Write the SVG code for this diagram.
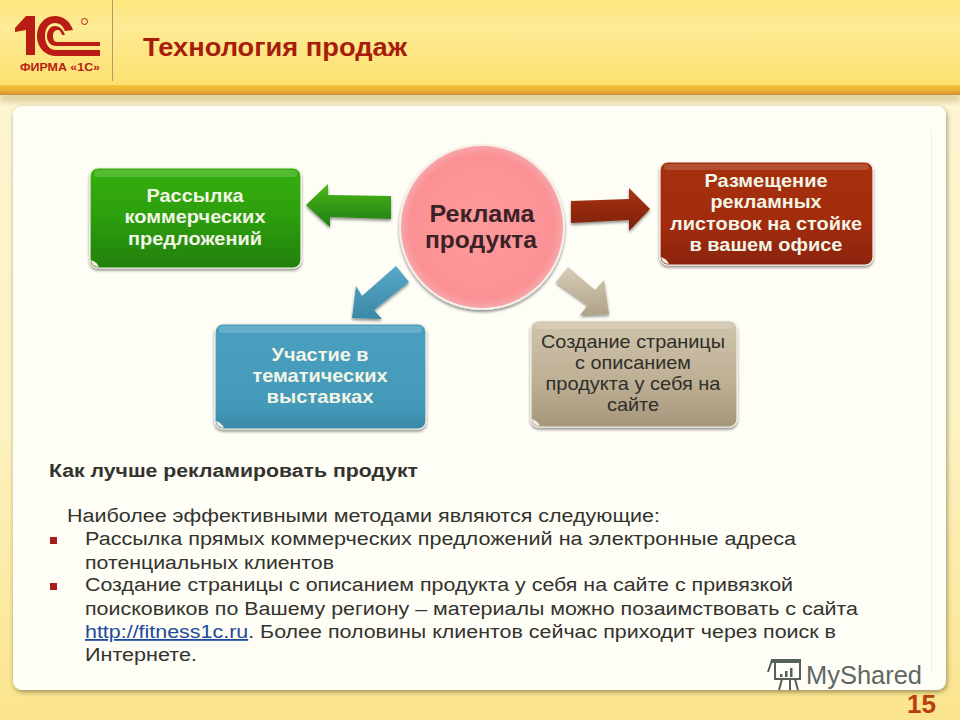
<svg xmlns="http://www.w3.org/2000/svg" width="960" height="720" viewBox="0 0 960 720">
<defs>
<linearGradient id="hdr" x1="0" y1="0" x2="0" y2="1"><stop offset="0" stop-color="#fde67c"/><stop offset="0.3" stop-color="#fdeb95"/><stop offset="1" stop-color="#fde070"/></linearGradient>
<linearGradient id="band" x1="0" y1="0" x2="0" y2="1"><stop offset="0" stop-color="#f5c53e"/><stop offset="0.7" stop-color="#e8a830"/><stop offset="1" stop-color="#c89038"/></linearGradient>
<linearGradient id="bg" x1="0" y1="0" x2="0" y2="1"><stop offset="0" stop-color="#fdf6d6"/><stop offset="0.6" stop-color="#fdf2c0"/><stop offset="1" stop-color="#fbe48c"/></linearGradient>
<linearGradient id="g" x1="0" y1="0" x2="0" y2="1"><stop offset="0" stop-color="#35b008"/><stop offset="0.5" stop-color="#2c9e0a"/><stop offset="1" stop-color="#237f0e"/></linearGradient>
<linearGradient id="r" x1="0" y1="0" x2="0" y2="1"><stop offset="0" stop-color="#a53010"/><stop offset="0.6" stop-color="#a22c0c"/><stop offset="1" stop-color="#8a2408"/></linearGradient>
<linearGradient id="b" x1="0" y1="0" x2="0" y2="1"><stop offset="0" stop-color="#4a9fc0"/><stop offset="0.8" stop-color="#4499b8"/><stop offset="1" stop-color="#3a87a6"/></linearGradient>
<linearGradient id="t" x1="0" y1="0" x2="0" y2="1"><stop offset="0" stop-color="#cfc4ac"/><stop offset="0.6" stop-color="#bdae93"/><stop offset="1" stop-color="#a5957a"/></linearGradient>
<radialGradient id="c" cx="0.5" cy="0.5" r="0.5"><stop offset="0" stop-color="#fe9a9c"/><stop offset="0.88" stop-color="#fb9194"/><stop offset="1" stop-color="#f6a8ac"/></radialGradient>
<linearGradient id="ag" x1="0" y1="0" x2="0" y2="1"><stop offset="0" stop-color="#4cb81c"/><stop offset="1" stop-color="#1f7d10"/></linearGradient>
<linearGradient id="ar" x1="0" y1="0" x2="0" y2="1"><stop offset="0" stop-color="#a83414"/><stop offset="1" stop-color="#7c200c"/></linearGradient>
<linearGradient id="ab" x1="0" y1="0" x2="0" y2="1"><stop offset="0" stop-color="#58a8c8"/><stop offset="1" stop-color="#3a88a8"/></linearGradient>
<linearGradient id="at" x1="0" y1="0" x2="0" y2="1"><stop offset="0" stop-color="#d8cdb8"/><stop offset="1" stop-color="#b0a288"/></linearGradient>
<filter id="s" x="-10%" y="-10%" width="120%" height="125%"><feGaussianBlur in="SourceAlpha" stdDeviation="1.8"/><feOffset dy="2"/><feComponentTransfer><feFuncA type="linear" slope="0.45"/></feComponentTransfer><feMerge><feMergeNode/><feMergeNode in="SourceGraphic"/></feMerge></filter>
<filter id="ps" x="-3%" y="-3%" width="106%" height="106%"><feGaussianBlur in="SourceAlpha" stdDeviation="2.5"/><feOffset dx="1" dy="2"/><feComponentTransfer><feFuncA type="linear" slope="0.4"/></feComponentTransfer><feMerge><feMergeNode/><feMergeNode in="SourceGraphic"/></feMerge></filter>
<filter id="hs" x="-2%" y="-20%" width="104%" height="160%"><feGaussianBlur stdDeviation="3"/></filter>
</defs>
<style>
text{font-family:"Liberation Sans",Arial,sans-serif}
.n{font-weight:700;font-size:18.500px;fill:#f2f5e6;text-anchor:middle}
.d{font-size:18.500px;fill:#2e2e2a;text-anchor:middle}
.c{font-weight:700;font-size:23.500px;fill:#3a2226;text-anchor:middle}
.p{font-size:18px;fill:#33332e}
.box{stroke:#f4f2e6;stroke-width:1.2}
.hl{fill:#fff;opacity:.16}
.ch{fill:#f2efe0}
</style>

<rect width="960" height="720" fill="url(#bg)"/>
<rect x="0" y="92" width="960" height="10" fill="#a88a40" opacity=".35" filter="url(#hs)"/>
<rect width="960" height="85" fill="url(#hdr)"/>
<rect y="85" width="960" height="10" fill="url(#band)"/>

<g id="logo">
<path d="M15 28 L26 16 H35 V55 H26 V30 L15 32 Z" fill="#b81c14"/>
<path d="M73 30 C70 21 63 16 55 16 C44 16 37 25 37 36 C37 47 45 56 56 56 H100 V50 H56 C49 50 45 44 45 36 C45 28 49 23 55 23 C60 23 63 26 65 31 Z" fill="#b81c14"/>
<path d="M65 35 C63 29 59 26 55 26 C50 26 47 31 47 36 C47 42 51 46 56 46 H100 V42 H57 C54 42 53 39 53 36 C53 32 55 30 58 30 C60 30 61 32 62 35 Z" fill="#b81c14"/>
<circle cx="84.500" cy="21.500" r="3" fill="none" stroke="#b81c14" stroke-width="1"/>
<text x="20" y="71" font-size="11.500" font-weight="700" fill="#b81c14" textLength="80" lengthAdjust="spacingAndGlyphs">ФИРМА «1С»</text>
</g>
<line x1="112.500" y1="0" x2="112.500" y2="81" stroke="#a8a060" stroke-width="1"/>
<text id="title" x="143" y="56" font-size="25" font-weight="700" fill="#a81c0c" textLength="264" lengthAdjust="spacingAndGlyphs">Технология продаж</text>

<g id="panel">
<rect x="13" y="106" width="933" height="584" rx="9" fill="#fefdf6" filter="url(#ps)"/>
<line x1="931.500" y1="130" x2="931.500" y2="672" stroke="#f0eee2" stroke-width="1"/>
</g>

<g id="connectors">
<g filter="url(#s)">
<path d="M391 196 V219 L330 217 V227 L306 205 L328 184 V195 Z" fill="url(#ag)"/>
<path d="M571 201 L629 199 V188 L650 209 L629 231 V220 L571 223 Z" fill="url(#ar)"/>
<path d="M396 266 L409 282 L374 310 L382 319 L352 318 L356 286 L362 296 Z" fill="url(#ab)"/>
<path d="M568 267 L556 282 L588 305 L580 315 L609 314 L604 280 L595 290 Z" fill="url(#at)"/>
</g>
</g>

<g id="node-green">
<rect class="box" x="90" y="168" width="211" height="100" rx="8" fill="url(#g)" filter="url(#s)"/>
<rect class="hl" x="94" y="170" width="203" height="7" rx="3.500"/>
<path class="ch" d="M91 260 Q97 262 99 267 Q92 267 91 260Z"/>
<text class="n" x="195" y="202" textLength="97" lengthAdjust="spacingAndGlyphs">Рассылка</text>
<text class="n" x="195" y="223" textLength="141" lengthAdjust="spacingAndGlyphs">коммерческих</text>
<text class="n" x="195" y="245" textLength="134" lengthAdjust="spacingAndGlyphs">предложений</text>
</g>

<g id="node-red">
<rect class="box" x="660" y="162" width="213" height="103" rx="8" fill="url(#r)" filter="url(#s)"/>
<rect class="hl" x="664" y="164" width="205" height="6" rx="3" opacity=".08"/>
<path class="ch" d="M661 257 Q667 259 669 264 Q662 264 661 257Z"/>
<text class="n" x="766" y="187" textLength="123" lengthAdjust="spacingAndGlyphs">Размещение</text>
<text class="n" x="766" y="208" textLength="111" lengthAdjust="spacingAndGlyphs">рекламных</text>
<text class="n" x="766" y="230" textLength="192" lengthAdjust="spacingAndGlyphs">листовок на стойке</text>
<text class="n" x="766" y="251" textLength="153" lengthAdjust="spacingAndGlyphs">в вашем офисе</text>
</g>

<g id="node-blue">
<rect class="box" x="215" y="324" width="211" height="105" rx="8" fill="url(#b)" filter="url(#s)"/>
<rect class="hl" x="219" y="326" width="203" height="7" rx="3.500"/>
<path class="ch" d="M216 421 Q222 423 224 428 Q217 428 216 421Z"/>
<text class="n" x="320" y="361" textLength="97" lengthAdjust="spacingAndGlyphs">Участие в</text>
<text class="n" x="320" y="382" textLength="135" lengthAdjust="spacingAndGlyphs">тематических</text>
<text class="n" x="320" y="403" textLength="107" lengthAdjust="spacingAndGlyphs">выставках</text>
</g>

<g id="node-tan">
<rect class="box" x="531" y="321" width="206" height="106" rx="8" fill="url(#t)" filter="url(#s)"/>
<rect class="hl" x="535" y="323" width="198" height="6" rx="3"/>
<path class="ch" d="M532 419 Q538 421 540 426 Q533 426 532 419Z"/>
<text class="d" x="633" y="348" textLength="184" lengthAdjust="spacingAndGlyphs">Создание страницы</text>
<text class="d" x="633" y="369" textLength="116" lengthAdjust="spacingAndGlyphs">с описанием</text>
<text class="d" x="633" y="390" textLength="175" lengthAdjust="spacingAndGlyphs">продукта у себя на</text>
<text class="d" x="633" y="411" textLength="52" lengthAdjust="spacingAndGlyphs">сайте</text>
</g>

<g id="node-center">
<circle cx="482" cy="227" r="82" fill="url(#c)" stroke="#f6efe8" stroke-width="2" filter="url(#s)"/>
<text class="c" x="482" y="222" textLength="105" lengthAdjust="spacingAndGlyphs">Реклама</text>
<text class="c" x="481" y="248" textLength="112" lengthAdjust="spacingAndGlyphs">продукта</text>
</g>

<g id="body">
<text x="49" y="477" font-size="18" font-weight="700" fill="#33332e" textLength="369" lengthAdjust="spacingAndGlyphs">Как лучше  рекламировать продукт</text>
<text class="p" x="67" y="522" textLength="593" lengthAdjust="spacingAndGlyphs">Наиболее эффективными методами являются следующие:</text>
<rect x="50" y="537" width="7" height="7" fill="#a81c1c"/>
<text class="p" x="85" y="545" textLength="711" lengthAdjust="spacingAndGlyphs">Рассылка прямых коммерческих предложений на электронные  адреса</text>
<text class="p" x="85" y="569" textLength="249" lengthAdjust="spacingAndGlyphs">потенциальных клиентов</text>
<rect x="50" y="583" width="7" height="7" fill="#a81c1c"/>
<text class="p" x="85" y="591" textLength="708" lengthAdjust="spacingAndGlyphs">Создание страницы с описанием продукта у себя на сайте с привязкой</text>
<text class="p" x="85" y="615" textLength="773" lengthAdjust="spacingAndGlyphs">поисковиков по Вашему региону – материалы можно позаимствовать с сайта</text>
<text class="p" x="85" y="638" textLength="751" lengthAdjust="spacingAndGlyphs"><tspan fill="#1c4a9c" text-decoration="underline">http://fitness1c.ru</tspan>. Более половины клиентов сейчас приходит через поиск в</text>
<text class="p" x="85" y="661" textLength="112" lengthAdjust="spacingAndGlyphs">Интернете.</text>
</g>

<g id="watermark">
<path d="M775 661 V679 H800 V661 M768 672 L772 660 M782 679 L779 690 M790 679 V690 M795 679 L798 690" fill="none" stroke="#56605a" stroke-width="2"/>
<rect x="771" y="659" width="30" height="4" fill="#56605a"/>
<rect x="780" y="674" width="2.500" height="3" fill="#56605a"/><rect x="785" y="671" width="2.500" height="6" fill="#56605a"/><rect x="790" y="668" width="2.500" height="9" fill="#56605a"/>
<text x="806" y="684" font-size="25" fill="#5e6862" font-family="Open Sans, sans-serif" textLength="116" lengthAdjust="spacingAndGlyphs">MyShared</text>
</g>
<text id="page" x="907" y="713" font-size="26" font-weight="700" fill="#b8400f" textLength="29" lengthAdjust="spacingAndGlyphs">15</text>
</svg>
